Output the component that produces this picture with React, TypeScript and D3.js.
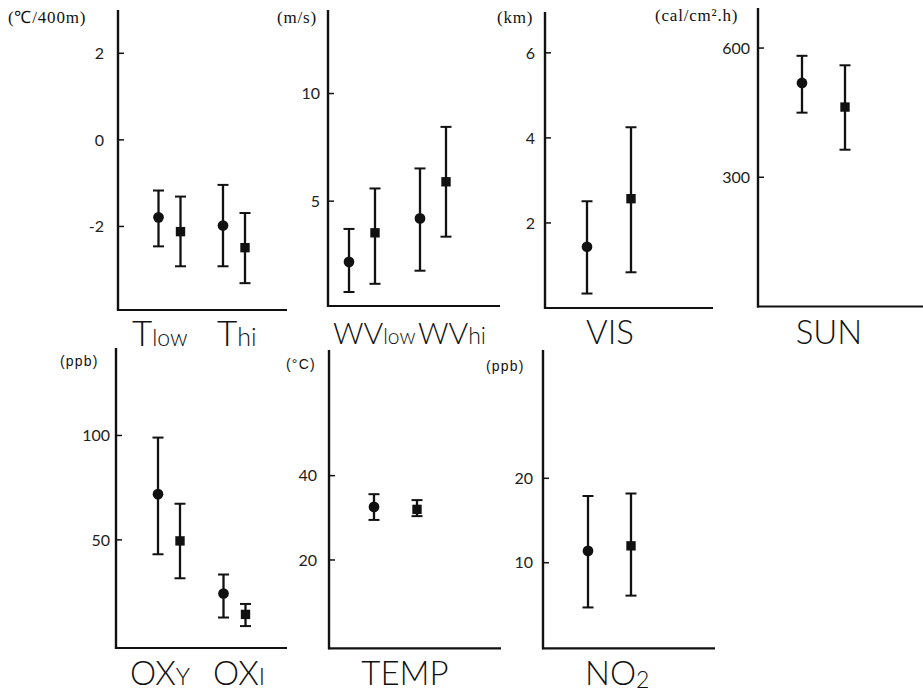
import React from "react";
import * as d3 from "d3";

// Each panel: values ordered [circle, square] within each group.
const lapseTicks = [-2, 0, 2];
const lapseMean = [-1.79, -2.12, -1.98, -2.49];
const lapseLow = [-2.46, -2.92, -2.92, -3.31];
const lapseHigh = [-1.17, -1.31, -1.04, -1.69];

const windTicks = [5, 10];
const windMean = [2.18, 3.53, 4.2, 5.9];
const windLow = [0.78, 1.16, 1.77, 3.35];
const windHigh = [3.71, 5.59, 6.52, 8.45];

const visTicks = [2, 4, 6];
const visMean = [1.44, 2.57];
const visLow = [0.34, 0.84];
const visHigh = [2.51, 4.25];

const sunTicks = [300, 600];
const sunMean = [519, 463];
const sunLow = [450, 364];
const sunHigh = [582, 560];

const oxTicks = [50, 100];
const oxMean = [71.9, 49.5, 24.3, 14.3];
const oxLow = [43.1, 31.6, 12.8, 8.7];
const oxHigh = [99, 67.3, 33.4, 19.3];

const tempTicks = [20, 40];
const tempMean = [32.6, 32.0];
const tempLow = [29.5, 30.4];
const tempHigh = [35.6, 34.2];

const no2Ticks = [10, 20];
const no2Mean = [11.4, 12.0];
const no2Low = [4.7, 6.1];
const no2High = [17.9, 18.2];

const markerKinds = ["circle", "square"];

type Part = { text: string; size: number; dy?: number };
type Label = { x: number; anchor: "start" | "middle"; parts: Part[] };
type Panel = {
  key: string;
  axisX: number;
  xEnd: number;
  yTop: number;
  yBottom: number;
  domain: [number, number];
  groups: string[];
  groupRange: [number, number];
  pairOffset: number;
  ticks: number[];
  tickGap: number;
  mean: number[];
  low: number[];
  high: number[];
  unit: string;
  unitX: number;
  unitY: number;
  unitSerif: boolean;
  labelY: number;
  labels: Label[];
};

const panels: Panel[] = [
  {
    key: "lapse", axisX: 118, xEnd: 287, yTop: 10, yBottom: 310, domain: [-3.93, 3.0],
    groups: ["low", "hi"], groupRange: [169.5, 234], pairOffset: 11,
    ticks: lapseTicks, tickGap: 14, mean: lapseMean, low: lapseLow, high: lapseHigh,
    unit: "(℃/400m)", unitX: 8, unitY: 23, unitSerif: true, labelY: 346,
    labels: [
      { x: 132, anchor: "start", parts: [{ text: "T", size: 35 }, { text: "low", size: 23 }] },
      { x: 217, anchor: "start", parts: [{ text: "T", size: 35 }, { text: "hi", size: 25 }] },
    ],
  },
  {
    key: "wind", axisX: 328, xEnd: 500, yTop: 10, yBottom: 306, domain: [0.13, 13.88],
    groups: ["low", "hi"], groupRange: [362, 433], pairOffset: 13,
    ticks: windTicks, tickGap: 8, mean: windMean, low: windLow, high: windHigh,
    unit: "(m/s)", unitX: 277, unitY: 23, unitSerif: true, labelY: 344,
    labels: [
      { x: 333, anchor: "start", parts: [{ text: "WV", size: 30 }, { text: "low", size: 21 }] },
      { x: 418, anchor: "start", parts: [{ text: "WV", size: 30 }, { text: "hi", size: 23 }] },
    ],
  },
  {
    key: "vis", axisX: 545, xEnd: 713, yTop: 12, yBottom: 308, domain: [0, 6.96],
    groups: ["VIS"], groupRange: [609, 609], pairOffset: 22,
    ticks: visTicks, tickGap: 10, mean: visMean, low: visLow, high: visHigh,
    unit: "(km)", unitX: 497, unitY: 23, unitSerif: true, labelY: 344,
    labels: [{ x: 610, anchor: "middle", parts: [{ text: "VIS", size: 33 }] }],
  },
  {
    key: "sun", axisX: 758, xEnd: 923, yTop: 8, yBottom: 306.5, domain: [0, 693],
    groups: ["SUN"], groupRange: [823.5, 823.5], pairOffset: 21.5,
    ticks: sunTicks, tickGap: 8, mean: sunMean, low: sunLow, high: sunHigh,
    unit: "(cal/cm².h)", unitX: 655, unitY: 21, unitSerif: true, labelY: 344,
    labels: [{ x: 829, anchor: "middle", parts: [{ text: "SUN", size: 33 }] }],
  },
  {
    key: "ox", axisX: 116, xEnd: 287, yTop: 348, yBottom: 648, domain: [-1.8, 141.9],
    groups: ["Y", "I"], groupRange: [169, 234.5], pairOffset: 11,
    ticks: oxTicks, tickGap: 6, mean: oxMean, low: oxLow, high: oxHigh,
    unit: "(ppb)", unitX: 60, unitY: 366, unitSerif: false, labelY: 685,
    labels: [
      { x: 130, anchor: "start", parts: [{ text: "OX", size: 33 }, { text: "Y", size: 24 }] },
      { x: 213, anchor: "start", parts: [{ text: "OX", size: 33 }, { text: "I", size: 24 }] },
    ],
  },
  {
    key: "temp", axisX: 329, xEnd: 501, yTop: 350, yBottom: 648.3, domain: [-0.95, 69.8],
    groups: ["TEMP"], groupRange: [395.5, 395.5], pairOffset: 21.5,
    ticks: tempTicks, tickGap: 12, mean: tempMean, low: tempLow, high: tempHigh,
    unit: "(°C)", unitX: 286, unitY: 369, unitSerif: false, labelY: 685,
    labels: [{ x: 405, anchor: "middle", parts: [{ text: "TEMP", size: 33 }] }],
  },
  {
    key: "no2", axisX: 543, xEnd: 715, yTop: 350, yBottom: 648.3, domain: [-0.14, 35.2],
    groups: ["NO2"], groupRange: [609.5, 609.5], pairOffset: 21.5,
    ticks: no2Ticks, tickGap: 10, mean: no2Mean, low: no2Low, high: no2High,
    unit: "(ppb)", unitX: 486, unitY: 371, unitSerif: false, labelY: 685,
    labels: [
      { x: 585, anchor: "start", parts: [{ text: "NO", size: 33 }, { text: "2", size: 23, dy: 3 }] },
    ],
  },
];

const ink = "#111";
const labelFont = "Lato, 'Liberation Sans', sans-serif";
const circlePath = d3.symbol().type(d3.symbolCircle).size(90)()!;
const squarePath = d3.symbol().type(d3.symbolSquare).size(88)()!;

function PanelView({ p }: { p: Panel }) {
  const y = d3.scaleLinear().domain(p.domain).range([p.yBottom, p.yTop]);
  const gx = d3.scalePoint<string>().domain(p.groups).range(p.groupRange);
  const sx = d3.scalePoint<string>().domain(markerKinds).range([-p.pairOffset, p.pairOffset]);
  const capHalf = 5.5;

  return (
    <g>
      {/* axes */}
      <line x1={p.axisX} x2={p.axisX} y1={p.yTop} y2={p.yBottom + 1} stroke={ink} strokeWidth={2.4} />
      <line x1={p.axisX - 1} x2={p.xEnd} y1={p.yBottom} y2={p.yBottom} stroke={ink} strokeWidth={2.2} />
      {p.ticks.map((t) => (
        <g key={t}>
          <line x1={p.axisX} x2={p.axisX + 6} y1={y(t)} y2={y(t)} stroke={ink} strokeWidth={1.5} />
          <text
            x={p.axisX - p.tickGap}
            y={y(t)}
            dy="0.36em"
            textAnchor="end"
            fontFamily={labelFont}
            fontSize={16}
            fill="#222"
          >
            {t < 0 ? `-${Math.abs(t)}` : t}
          </text>
        </g>
      ))}
      <text
        x={p.unitX}
        y={p.unitY}
        fontFamily={p.unitSerif ? "'Liberation Serif', serif" : "'Liberation Sans', sans-serif"}
        fontSize={p.unitSerif ? 17 : 14}
        letterSpacing={p.unitSerif ? 0.8 : 1.2}
        fill={ink}
      >
        {p.unit}
      </text>

      {/* error bars and markers */}
      {p.mean.map((m, i) => {
        const kind = markerKinds[i % 2];
        const cx = (gx(p.groups[Math.floor(i / 2)]) ?? 0) + (sx(kind) ?? 0);
        const yHi = y(p.high[i]);
        const yLo = y(p.low[i]);
        return (
          <g key={i}>
            <line x1={cx} x2={cx} y1={yHi} y2={yLo} stroke={ink} strokeWidth={2.3} />
            <line x1={cx - capHalf} x2={cx + capHalf} y1={yHi} y2={yHi} stroke={ink} strokeWidth={2} />
            <line x1={cx - capHalf} x2={cx + capHalf} y1={yLo} y2={yLo} stroke={ink} strokeWidth={2} />
            <path d={kind === "circle" ? circlePath : squarePath} transform={`translate(${cx},${y(m)})`} fill={ink} />
          </g>
        );
      })}

      {/* category labels */}
      {p.labels.map((l, i) => (
        <text key={i} x={l.x} y={p.labelY} textAnchor={l.anchor} fontFamily={labelFont} fontWeight={300} fill={ink}>
          {l.parts.map((pt, j) => (
            <tspan key={j} fontSize={pt.size} dy={pt.dy ?? 0}>
              {pt.text}
            </tspan>
          ))}
        </text>
      ))}
    </g>
  );
}

export default function App() {
  return (
    <svg
      width={923}
      height={694}
      viewBox="0 0 923 694"
      style={{ position: "absolute", left: 0, top: 0, background: "#fff" }}
    >
      <rect width={923} height={694} fill="#fff" />
      {panels.map((p) => (
        <PanelView key={p.key} p={p} />
      ))}
    </svg>
  );
}
